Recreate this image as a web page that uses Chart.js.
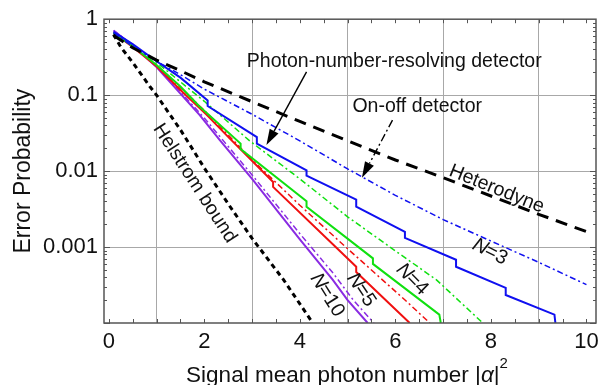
<!DOCTYPE html>
<html>
<head>
<meta charset="utf-8">
<script src="https://cdn.jsdelivr.net/npm/chart.js@4.4.1/dist/chart.umd.min.js"></script>
<style>
  html, body { margin: 0; padding: 0; background: #fff; }
  #wrap { width: 612px; height: 385px; }
</style>
</head>
<body>
<div id="wrap"><canvas id="errChart" width="612" height="385"></canvas></div>
<script>
// ticks
const xTickValues = [0, 1, 2, 3, 4, 5, 6, 7, 8, 9, 10];
const yTickValues = [0.0001, 0.001, 0.01, 0.1, 1];
const yTickLabels = ["", "0.001", "0.01", "0.1", "1"];

// black reference curves
const helstromX = [0.1, 0.25, 0.5, 0.86, 1, 1.5, 2, 2.5, 3, 3.66, 4.27];
const helstromY = [0.63, 0.43, 0.27, 0.13, 0.1, 0.035, 0.011, 0.0037, 0.0013, 0.00037, 0.0001];
const heterodyneX = [0.1, 0.5, 1, 1.5, 2, 3, 4, 5, 6, 7, 8, 9, 10];
const heterodyneY = [0.61, 0.42, 0.29, 0.21, 0.15, 0.082, 0.045, 0.025, 0.014, 0.0082, 0.0047, 0.0027, 0.0016];

// N=3
const pnr3X = [0.1, 0.5, 1, 1.5, 2.07, 2.07, 3.1, 3.1, 4.14, 4.14, 5.18, 5.18, 6.2, 6.2, 7.27, 7.27, 8.31, 8.31, 9.33, 9.35];
const pnr3Y = [0.68, 0.47, 0.28, 0.17, 0.085, 0.072, 0.028, 0.023, 0.0102, 0.0087, 0.0042, 0.0034, 0.00158, 0.00132, 0.00068, 0.00055, 0.00029, 0.000234, 0.000129, 0.0001];
const onOff3X = [0.1, 0.5, 1, 1.5, 2, 3, 4, 5, 6, 7, 8, 9, 10];
const onOff3Y = [0.65, 0.44, 0.28, 0.186, 0.12, 0.056, 0.025, 0.0107, 0.0048, 0.0023, 0.0012, 0.00063, 0.00032];

// N=4
const pnr4X = [0.1, 0.5, 1, 1.5, 1.9, 2.76, 2.76, 4.14, 4.14, 5.53, 5.53, 6.92, 6.95];
const pnr4Y = [0.66, 0.44, 0.25, 0.13, 0.071, 0.023, 0.0195, 0.004, 0.0034, 0.00071, 0.0006, 0.000129, 0.0001];
const onOff4X = [0.1, 0.5, 1, 2, 2.95, 4, 5, 6, 6.86, 7.83];
const onOff4Y = [0.66, 0.45, 0.27, 0.083, 0.025, 0.0079, 0.0025, 0.00089, 0.00037, 0.0001];

// N=5
const pnr5X = [0.1, 0.5, 1, 1.5, 2.05, 2.53, 3.44, 3.44, 5.18, 5.18, 6.3];
const pnr5Y = [0.66, 0.43, 0.24, 0.117, 0.055, 0.027, 0.0072, 0.0062, 0.00055, 0.00047, 0.0001];
const onOff5X = [0.1, 0.5, 1, 2, 3, 4, 5, 6.19, 6.72];
const onOff5Y = [0.66, 0.44, 0.25, 0.063, 0.0141, 0.00355, 0.00095, 0.000204, 0.0001];

// N=10
const pnr10X = [0.1, 0.5, 1, 1.9, 2.32, 3, 4, 4.69, 5.0, 5.42];
const pnr10Y = [0.71, 0.45, 0.234, 0.055, 0.0257, 0.0079, 0.00126, 0.00037, 0.0002, 0.0001];
const onOff10X = [0.1, 0.5, 1, 2, 3, 4, 4.7, 5.12, 5.55];
const onOff10Y = [0.71, 0.457, 0.245, 0.05, 0.0089, 0.0015, 0.00045, 0.0002, 0.0001];

function pts(xs, ys) {
  return xs.map((x, i) => ({ x: x, y: ys[i] }));
}

const FONT = "'Liberation Sans', Arial, sans-serif";
const dashDot = [6, 3, 2, 3];

function curve(xs, ys, color, width, dash) {
  return {
    data: pts(xs, ys),
    borderColor: color,
    borderWidth: width,
    borderDash: dash || [],
    pointRadius: 0,
    tension: 0,
    fill: false,
  };
}

// text labels + arrows placed in data coordinates
const notes = [
  { text: "Photon-number-resolving detector", x: 2.89, y: 0.28, angle: 0, align: "left" },
  { text: "On-off detector", x: 5.1, y: 0.07, angle: 0, align: "left" },
  { text: "Heterodyne", x: 8.12, y: 0.0058, angle: 22, align: "center" },
  { text: "Helstrom bound", x: 1.8, y: 0.0069, angle: 57, align: "center" },
];
const nLabels = [
  { rest: "=3", x: 7.99, y: 0.00086, angle: 27 },
  { rest: "=4", x: 6.36, y: 0.00037, angle: 45 },
  { rest: "=5", x: 5.29, y: 0.00027, angle: 56 },
  { rest: "=10", x: 4.58, y: 0.00023, angle: 58 },
];
const arrows = [
  { x0: 4.14, y0: 0.203, x1: 3.3, y1: 0.022, dash: [] },
  { x0: 5.94, y0: 0.047, x1: 5.3, y1: 0.0082, dash: [8, 3, 2, 3] },
];

const decorPlugin = {
  id: "decor",
  afterDatasetsDraw(chart) {
    const { ctx, chartArea: a, scales } = chart;
    const sx = scales.x, sy = scales.y;
    ctx.save();

    // inward minor ticks
    ctx.strokeStyle = "#555";
    ctx.lineWidth = 1;
    ctx.beginPath();
    for (let v = 0; v <= 10; v += 0.5) {
      const px = Math.round(sx.getPixelForValue(v)) + 0.5;
      ctx.moveTo(px, a.bottom); ctx.lineTo(px, a.bottom - 4);
      ctx.moveTo(px, a.top); ctx.lineTo(px, a.top + 4);
    }
    for (let d = -4; d < 0; d++) {
      for (let k = 1; k < 10; k++) {
        const py = Math.round(sy.getPixelForValue(k * Math.pow(10, d))) + 0.5;
        const len = k === 1 ? 6 : 3;
        ctx.moveTo(a.left, py); ctx.lineTo(a.left + len, py);
        ctx.moveTo(a.right, py); ctx.lineTo(a.right - len, py);
      }
    }
    ctx.stroke();
    ctx.lineWidth = 1.5;
    ctx.strokeRect(a.left, a.top, a.right - a.left, a.bottom - a.top);

    // arrows
    ctx.strokeStyle = "#000";
    ctx.fillStyle = "#000";
    arrows.forEach((ar) => {
      const x0 = sx.getPixelForValue(ar.x0), y0 = sy.getPixelForValue(ar.y0);
      const x1 = sx.getPixelForValue(ar.x1), y1 = sy.getPixelForValue(ar.y1);
      const ang = Math.atan2(y1 - y0, x1 - x0);
      const hl = 16, hw = 5;
      ctx.lineWidth = 1.4;
      ctx.setLineDash(ar.dash);
      ctx.beginPath();
      ctx.moveTo(x0, y0);
      ctx.lineTo(x1 - hl * Math.cos(ang), y1 - hl * Math.sin(ang));
      ctx.stroke();
      ctx.setLineDash([]);
      ctx.beginPath();
      ctx.moveTo(x1, y1);
      ctx.lineTo(x1 - hl * Math.cos(ang) + hw * Math.sin(ang), y1 - hl * Math.sin(ang) - hw * Math.cos(ang));
      ctx.lineTo(x1 - hl * Math.cos(ang) - hw * Math.sin(ang), y1 - hl * Math.sin(ang) + hw * Math.cos(ang));
      ctx.closePath();
      ctx.fill();
    });

    // text notes
    ctx.fillStyle = "#111";
    ctx.textBaseline = "middle";
    notes.forEach((n) => {
      ctx.save();
      ctx.font = "19.5px " + FONT;
      ctx.translate(sx.getPixelForValue(n.x), sy.getPixelForValue(n.y));
      ctx.rotate(n.angle * Math.PI / 180);
      ctx.textAlign = n.align;
      ctx.fillText(n.text, 0, 0);
      ctx.restore();
    });
    nLabels.forEach((n) => {
      ctx.save();
      ctx.translate(sx.getPixelForValue(n.x), sy.getPixelForValue(n.y));
      ctx.rotate(n.angle * Math.PI / 180);
      ctx.textAlign = "left";
      ctx.font = "italic 20px " + FONT;
      const wN = ctx.measureText("N").width;
      ctx.font = "20px " + FONT;
      const wR = ctx.measureText(n.rest).width;
      const x0 = -(wN + wR) / 2;
      ctx.font = "italic 20px " + FONT;
      ctx.fillText("N", x0, 0);
      ctx.font = "20px " + FONT;
      ctx.fillText(n.rest, x0 + wN - 1, 0);
      ctx.restore();
    });

    // x axis title with italic alpha and superscript
    const parts = [
      { t: "Signal mean photon number |", f: "22.5px " + FONT, dy: 0 },
      { t: "α", f: "italic 22.5px " + FONT, dy: 0 },
      { t: "|", f: "22.5px " + FONT, dy: 0 },
      { t: "2", f: "15px " + FONT, dy: -14 },
    ];
    let total = 0;
    parts.forEach((p) => { ctx.font = p.f; p.w = ctx.measureText(p.t).width; total += p.w; });
    let cx = (a.left + a.right) / 2 - 3 - total / 2;
    const base = 382;
    ctx.textAlign = "left";
    ctx.textBaseline = "alphabetic";
    parts.forEach((p) => {
      ctx.font = p.f;
      ctx.fillText(p.t, cx, base + p.dy);
      cx += p.w;
    });
    ctx.restore();
  },
};

new Chart(document.getElementById("errChart").getContext("2d"), {
  type: "line",
  data: {
    datasets: [
      curve(heterodyneX, heterodyneY, "#000", 3, [12, 8]),
      curve(helstromX, helstromY, "#000", 3, [5, 4]),
      curve(onOff3X, onOff3Y, "#1010f0", 1.5, dashDot),
      curve(pnr3X, pnr3Y, "#1010f0", 2, []),
      curve(onOff4X, onOff4Y, "#10e010", 1.5, dashDot),
      curve(pnr4X, pnr4Y, "#10e010", 2, []),
      curve(onOff5X, onOff5Y, "#f01010", 1.5, dashDot),
      curve(pnr5X, pnr5Y, "#f01010", 2, []),
      curve(onOff10X, onOff10Y, "#8a2be2", 1.5, dashDot),
      curve(pnr10X, pnr10Y, "#8a2be2", 2, []),
    ],
  },
  options: {
    responsive: false,
    animation: false,
    devicePixelRatio: 1,
    layout: { padding: { top: 19, right: 16, left: 0, bottom: 0 } },
    plugins: { legend: { display: false }, tooltip: { enabled: false } },
    scales: {
      x: {
        type: "linear",
        min: -0.1,
        max: 10.2,
        afterBuildTicks: (scale) => { scale.ticks = xTickValues.map((v) => ({ value: v })); },
        afterFit: (scale) => { scale.height = 62; },
        ticks: {
          autoSkip: false,
          maxRotation: 0,
          padding: 6,
          color: "#111",
          font: { family: FONT, size: 22 },
          callback: (v) => (v % 2 === 0 ? String(v) : ""),
        },
        grid: {
          drawTicks: false,
          color: (c) => (c.tick && c.tick.value % 2 === 1 ? "#a8a8a8" : "rgba(0,0,0,0)"),
          lineWidth: 1,
        },
        border: { display: false },
      },
      y: {
        type: "logarithmic",
        min: 0.0001,
        max: 1,
        afterBuildTicks: (scale) => { scale.ticks = yTickValues.map((v) => ({ value: v })); },
        afterFit: (scale) => { scale.width = 104; },
        ticks: {
          autoSkip: false,
          padding: 6,
          color: "#111",
          font: { family: FONT, size: 22 },
          callback: (v) => {
            const i = yTickValues.findIndex((t) => Math.abs(Math.log10(t) - Math.log10(v)) < 1e-6);
            return i >= 0 ? yTickLabels[i] : "";
          },
        },
        grid: {
          drawTicks: false,
          color: (c) => (c.tick && c.tick.value > 0.0002 && c.tick.value < 0.5 ? "#a8a8a8" : "rgba(0,0,0,0)"),
          lineWidth: 1,
        },
        border: { display: false },
        title: {
          display: true,
          text: "Error Probability",
          color: "#111",
          font: { family: FONT, size: 23 },
          padding: { top: 10, bottom: 0 },
        },
      },
    },
  },
  plugins: [decorPlugin],
});
</script>
</body>
</html>
